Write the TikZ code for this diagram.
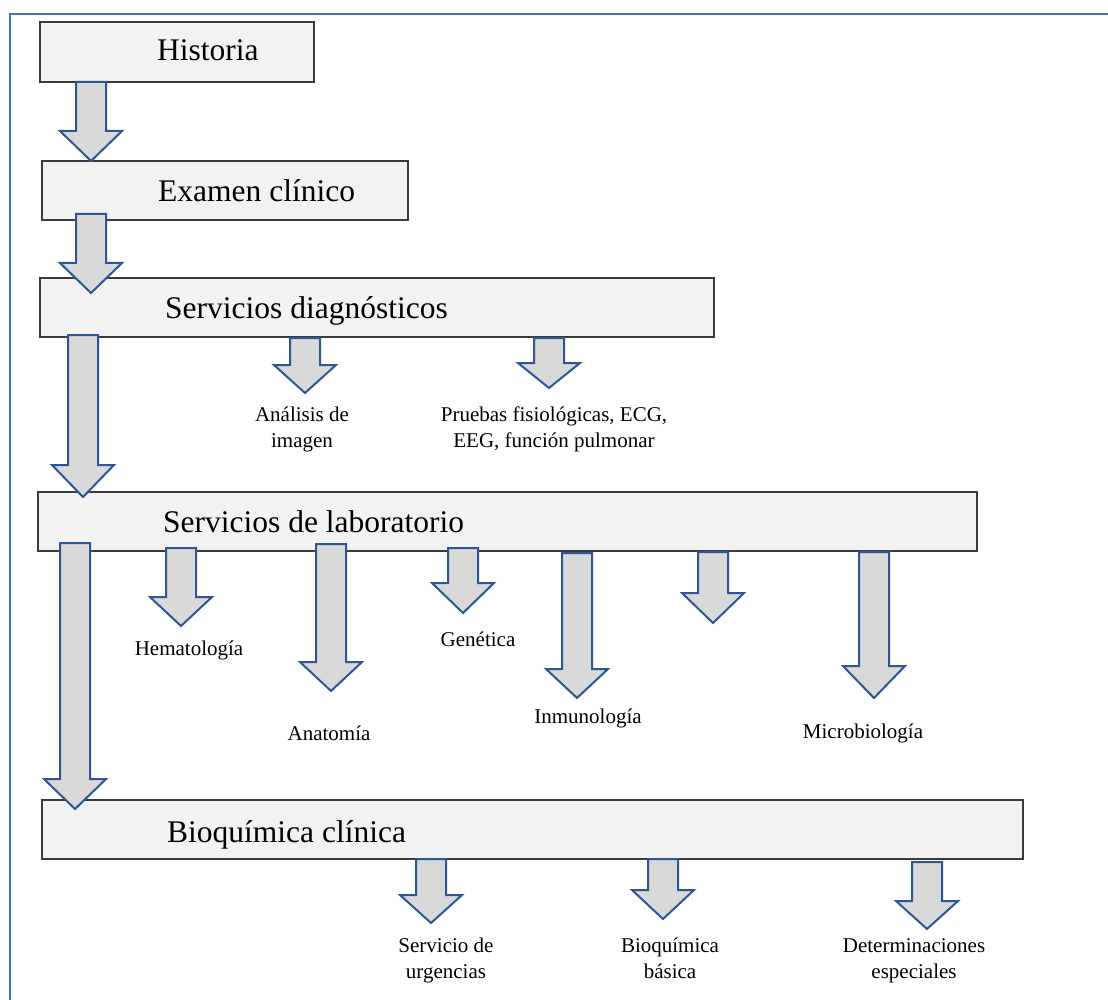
\documentclass[tikz,border=0pt]{standalone}
\usepackage{xcolor}
\usepackage{fontspec}
\setmainfont{Liberation Serif}
\usepackage{tikz}
\usetikzlibrary{positioning, calc}
\definecolor{framebl}{HTML}{4472C4}
\definecolor{arrbl}{HTML}{2F5597}
\definecolor{boxfill}{HTML}{F2F2F2}
\definecolor{arrfill}{HTML}{D9D9D9}
\definecolor{boxline}{HTML}{3A3A3A}
\tikzstyle{stage} = [draw=boxline, line width=1.4pt, fill=boxfill, rectangle, inner sep=0pt]
\tikzstyle{stagetxt} = [anchor=base west, inner sep=0pt, font=\fontsize{31.5}{36}\selectfont]
\tikzstyle{sub} = [anchor=base, inner sep=0pt, align=center, font=\fontsize{21}{26}\selectfont]
\tikzstyle{blockarr} = [draw=arrbl, fill=arrfill, line width=2pt, line join=miter]
% block arrow: centre x, top, start of head, tip
\newcommand{\blockarr}[4]{\draw[blockarr] (#1-15,#2) -- (#1+15,#2) -- (#1+15,#3) -- (#1+31,#3) -- (#1,#4) -- (#1-31,#3) -- (#1-15,#3) -- cycle;}

\begin{document}
\begin{tikzpicture}[x=1pt, y=-1pt]
\useasboundingbox (0,0) rectangle (1108,1000);
\draw[framebl, line width=2pt] (1108,14) -- (10,14) -- (10,1000);

% Nodes
\node (hist) [stage, minimum width=274pt, minimum height=60pt] at (177,52) {};
\node (exam) [stage, minimum width=366pt, minimum height=59pt] at (225,190.5) {};
\node (diag) [stage, minimum width=674pt, minimum height=59pt] at (377,307.5) {};
\node (lab) [stage, minimum width=939pt, minimum height=59pt] at (507.5,521.5) {};
\node (bioq) [stage, minimum width=981pt, minimum height=59pt] at (532.5,829.5) {};

\node (histT) [stagetxt] at (157,61) {Historia};
\node (examT) [stagetxt] at (158,202) {Examen clínico};
\node (diagT) [stagetxt] at (165,318) {Servicios diagnósticos};
\node (labT) [stagetxt] at (163,532) {Servicios de laboratorio};
\node (bioqT) [stagetxt] at (167,842) {Bioquímica clínica};

% two-line labels sit on the baseline of their last line
\node (imag) [sub] at (302,447) {Análisis de\\imagen};
\node (fisio) [sub] at (554,447) {Pruebas fisiológicas, ECG,\\EEG, función pulmonar};
\node (hemat) [sub] at (189,655) {Hematología};
\node (anat) [sub] at (329,740) {Anatomía};
\node (genet) [sub] at (478,646) {Genética};
\node (inmun) [sub] at (588,723) {Inmunología};
\node (micro) [sub] at (863,738) {Microbiología};
\node (urg) [sub] at (446,978) {Servicio de\\urgencias};
\node (basic) [sub] at (670,978) {Bioquímica\\básica};
\node (espec) [sub] at (914,978) {Determinaciones\\especiales};

% Arrows
\blockarr{91}{82}{131}{161}
\blockarr{91}{214}{263}{293}
\blockarr{83}{335}{465}{497}
\blockarr{75}{543}{779}{809}
\blockarr{305}{338}{365}{393}
\blockarr{549}{338}{363}{388}
\blockarr{181}{548}{597}{626}
\blockarr{331}{544}{662}{691}
\blockarr{463}{548}{583}{613}
\blockarr{577}{553}{669}{698}
\blockarr{713}{552}{593}{623}
\blockarr{874}{552}{666}{698}
\blockarr{431}{859}{895}{923}
\blockarr{663}{859}{890}{919}
\blockarr{927}{862}{901}{929}
\end{tikzpicture}
\end{document}
